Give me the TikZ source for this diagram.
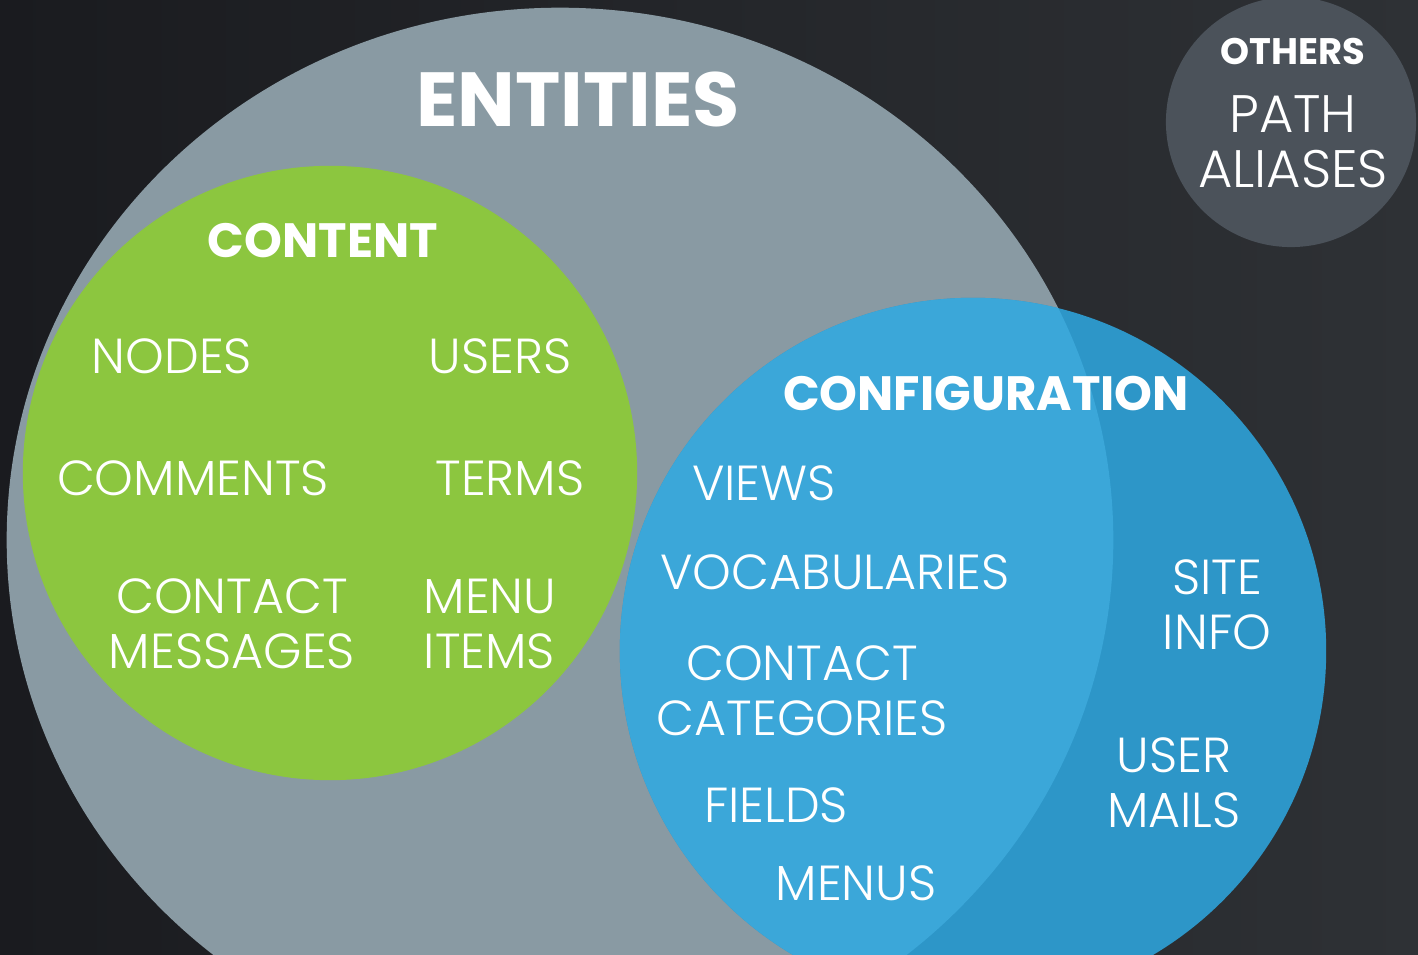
\documentclass[tikz,border=0pt]{standalone}
\usepackage{fontspec}
\setmainfont{Poppins}
\newfontfamily\thinfont{Poppins Light}
\definecolor{bgleft}{RGB}{26,27,31}
\definecolor{bgright}{RGB}{46,49,53}
\definecolor{entgray}{RGB}{137,154,163}
\definecolor{contgreen}{RGB}{140,198,63}
\definecolor{conflight}{RGB}{59,167,217}
\definecolor{confdark}{RGB}{45,150,200}
\definecolor{othgray}{RGB}{75,82,90}
\tikzset{
   headtext/.style = {font=\bfseries\fontsize{13.7}{16}\selectfont, text=white},
   itemtext/.style = {font=\thinfont\fontsize{14}{15.6}\selectfont, text=white, align=center}
}
\begin{document}
\begin{tikzpicture}[x=0.01cm, y=-0.01cm]
   \useasboundingbox (0,0) rectangle (1418,955);
   \shade[left color=bgleft, right color=bgright] (0,0) rectangle (1418,955);

   % the three sets and the loose one
   \fill[entgray] (560,540) ellipse [x radius=5.53cm, y radius=5.32cm];
   \fill[contgreen] (330,473) circle [radius=3.07cm];
   \fill[confdark] (973,651) circle [radius=3.53cm];
   \begin{scope}
      \clip (560,540) ellipse [x radius=5.53cm, y radius=5.32cm];
      \fill[conflight] (973,651) circle [radius=3.53cm];
   \end{scope}
   \fill[othgray] (1291,122) circle [radius=1.25cm];

   \node (entities) at (578,99) [
      headtext,
      font = \bfseries\fontsize{21.8}{25}\selectfont
   ]{ENTITIES};

   % content
   \node (content) at (323,241) [headtext]{CONTENT};
   \node (nodes)    at (172,356) [itemtext]{NODES};
   \node (users)    at (500,356) [itemtext]{USERS};
   \node (comments) at (193,478) [itemtext]{COMMENTS};
   \node (terms)    at (510,478) [itemtext]{TERMS};
   \node (contmsg)  at (232,624) [itemtext]{CONTACT\\MESSAGES};
   \node (menuitem) at (490,624) [itemtext, align=left]{MENU\\ITEMS};

   % configuration
   \node (config) at (986,394) [headtext]{CONFIGURATION};
   \node (views)    at (764,483) [itemtext]{VIEWS};
   \node (vocab)    at (835,572) [itemtext]{VOCABULARIES};
   \node (contcat)  at (802,691) [itemtext]{CONTACT\\CATEGORIES};
   \node (fields)   at (776,805) [itemtext]{FIELDS};
   \node (menus)    at (856,883) [itemtext]{MENUS};
   \node (siteinfo) at (1217,605) [itemtext]{SITE\\INFO};
   \node (usermail) at (1174,783) [itemtext]{USER\\MAILS};

   % others
   \node (others) at (1293,51) [
      headtext,
      font = \bfseries\fontsize{10.5}{12}\selectfont
   ]{OTHERS};
   \node (aliases) at (1293,142) [
      itemtext,
      font = \thinfont\fontsize{15}{15.6}\selectfont
   ]{PATH\\ALIASES};
\end{tikzpicture}
\end{document}
